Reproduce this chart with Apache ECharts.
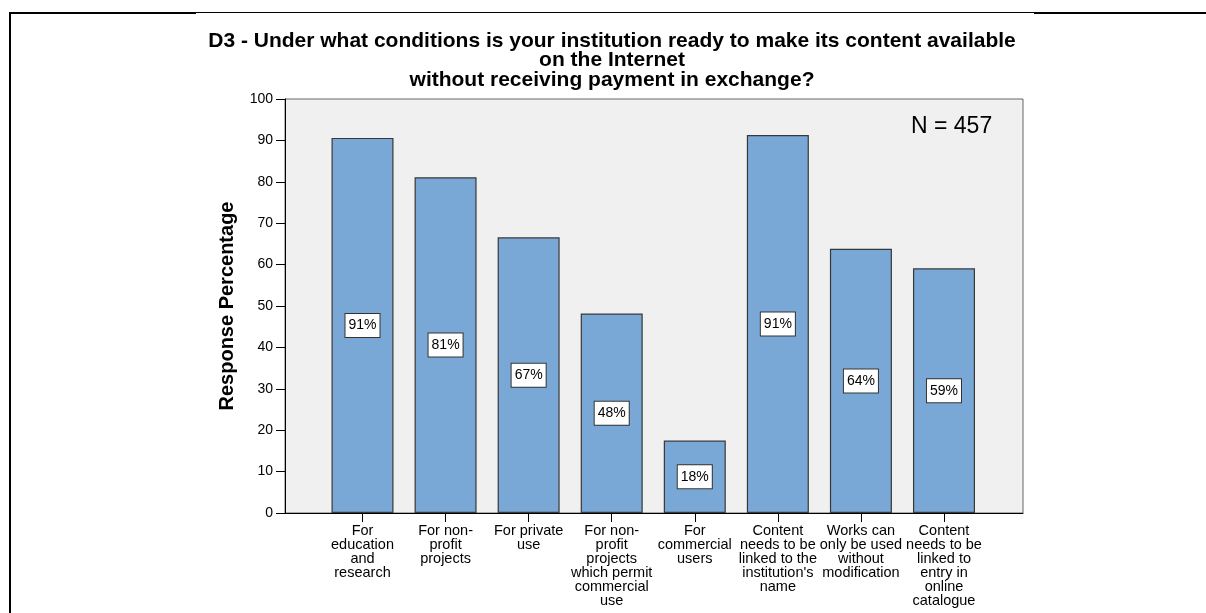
<!DOCTYPE html>
<html>
<head>
<meta charset="utf-8">
<script src="https://cdn.jsdelivr.net/npm/echarts@6/dist/echarts.min.js"></script>
<style>
html,body{margin:0;padding:0;background:#fff;}
#chart{width:1206px;height:613px;}
</style>
</head>
<body>
<div id="chart"></div>
<script>
const categories = [
  "For\neducation\nand\nresearch",
  "For non-\nprofit\nprojects",
  "For private\nuse",
  "For non-\nprofit\nprojects\nwhich permit\ncommercial\nuse",
  "For\ncommercial\nusers",
  "Content\nneeds to be\nlinked to the\ninstitution's\nname",
  "Works can\nonly be used\nwithout\nmodification",
  "Content\nneeds to be\nlinked to\nentry in\nonline\ncatalogue"
];
const values = [90.6, 81.1, 66.6, 48.2, 17.5, 91.3, 63.8, 59.1];
const yTicks = [0, 10, 20, 30, 40, 50, 60, 70, 80, 90, 100];
const titleText = "D3 - Under what conditions is your institution ready to make its content available\non the Internet\nwithout receiving payment in exchange?";
const nText = "N = 457";

const FONT = "'Liberation Sans', Arial, Helvetica, sans-serif";
const plotLeft = 285, plotTop = 99, plotW = 738, plotH = 414;
const band = 83.07, firstCenter = 362.5;

const chart = echarts.init(document.getElementById('chart'));
chart.setOption({
  animation: false,
  backgroundColor: '#ffffff',
  title: {
    text: titleText,
    left: 612, top: 31, textAlign: 'center', padding: 0,
    textStyle: {fontFamily: FONT, fontWeight: 'bold', fontSize: 21, lineHeight: 19.5, color: '#000'}
  },
  grid: [
    {left: plotLeft, top: plotTop, width: plotW, height: plotH, show: true,
     backgroundColor: '#f0f0f0', borderColor: '#666', borderWidth: 1, containLabel: false},
    {left: firstCenter - band / 2, top: plotTop, width: band * categories.length, height: plotH, containLabel: false}
  ],
  xAxis: [
    {gridIndex: 0, type: 'value', min: 0, max: 1,
     axisLine: {show: true, onZero: false, lineStyle: {color: '#000', width: 1}},
     axisTick: {show: false}, axisLabel: {show: false}, splitLine: {show: false}},
    {gridIndex: 1, type: 'category', data: categories,
     axisLine: {show: false},
     axisTick: {show: true, alignWithLabel: true, length: 9, lineStyle: {color: '#000'}},
     axisLabel: {interval: 0, margin: 11, fontFamily: FONT, fontSize: 14.5, lineHeight: 14, color: '#000', verticalAlign: 'top'}}
  ],
  yAxis: [
    {gridIndex: 0, type: 'value', min: 0, max: 100, interval: 10,
     name: 'Response Percentage', nameLocation: 'middle', nameGap: 48,
     nameTextStyle: {fontFamily: FONT, fontWeight: 'bold', fontSize: 20, color: '#000'},
     axisLine: {show: true, lineStyle: {color: '#000'}},
     axisTick: {show: true, length: 9, lineStyle: {color: '#000'}},
     axisLabel: {margin: 12, fontFamily: FONT, fontSize: 14, color: '#000',
       formatter: v => yTicks.includes(v) ? String(v) : ''},
     splitLine: {show: false}},
    {gridIndex: 1, type: 'value', min: 0, max: 100, show: false, splitLine: {show: false}}
  ],
  series: [{
    type: 'bar', xAxisIndex: 1, yAxisIndex: 1, data: values, barWidth: 62,
    itemStyle: {color: '#7aa8d6', borderColor: '#383838', borderWidth: 1.2},
    label: {show: true, position: 'inside', formatter: p => Math.round(p.value) + '%',
      fontFamily: FONT, fontSize: 14, color: '#000', backgroundColor: '#fff',
      borderColor: '#333', borderWidth: 1, padding: [5, 3, 4, 3]}
  }],
  graphic: [
    {type: 'text', left: 911, top: 115, style: {text: nText, fontFamily: FONT, fontSize: 23, fill: '#000'}},
    {type: 'line', shape: {x1: 10, y1: 13, x2: 196, y2: 13}, style: {stroke: '#000', lineWidth: 2}},
    {type: 'line', shape: {x1: 196, y1: 12.5, x2: 1034, y2: 12.5}, style: {stroke: '#000', lineWidth: 1}},
    {type: 'line', shape: {x1: 1034, y1: 13, x2: 1206, y2: 13}, style: {stroke: '#000', lineWidth: 2}},
    {type: 'line', shape: {x1: 10, y1: 12, x2: 10, y2: 613}, style: {stroke: '#000', lineWidth: 2}}
  ]
});
</script>
</body>
</html>
